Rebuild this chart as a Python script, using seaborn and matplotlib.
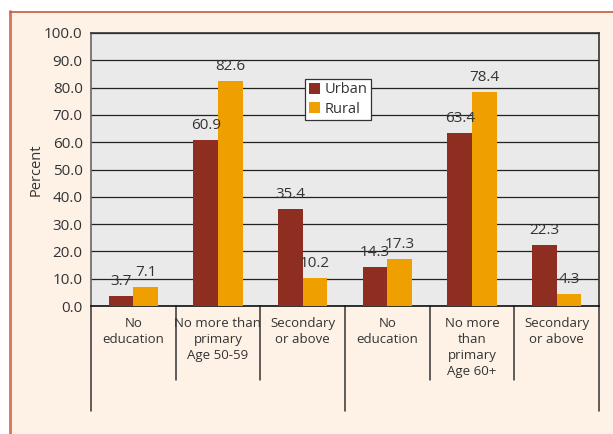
import pandas as pd
import matplotlib.pyplot as plt
import seaborn as sns
from matplotlib.patches import Rectangle
from matplotlib.lines import Line2D

groups = ['ne_50', 'prim_50', 'sec_50', 'ne_60', 'prim_60', 'sec_60']
group_labels = ['No\neducation', 'No more than\nprimary\nAge 50-59', 'Secondary\nor above',
                'No\neducation', 'No more\nthan\nprimary\nAge 60+', 'Secondary\nor above']
urban = [3.7, 60.9, 35.4, 14.3, 63.4, 22.3]
rural = [7.1, 82.6, 10.2, 17.3, 78.4, 4.3]
series = ['Urban', 'Rural']
colors = ['#8E2E20', '#EFA000']

df = pd.DataFrame({
    'group': groups * 2,
    'area': ['Urban'] * 6 + ['Rural'] * 6,
    'value': urban + rural,
})

sns.set_style('white')
plt.rcParams['font.family'] = ['Open Sans', 'DejaVu Sans']
plt.rcParams['text.color'] = '#333333'

fig = plt.figure(figsize=(6.13, 4.34), dpi=100)
fig.patch.set_facecolor('white')
# cream panel with salmon border
fig.patches.append(Rectangle((10 / 613, 0), 1, (434 - 11) / 434, transform=fig.transFigure,
                             facecolor='#FEF2E7', edgecolor='none', zorder=-10))
fig.lines.append(Line2D([10 / 613, 10 / 613], [0, (434 - 11) / 434], transform=fig.transFigure,
                        color='#D5735C', lw=2, zorder=-5))
fig.lines.append(Line2D([10 / 613, 1], [(434 - 11.5) / 434] * 2, transform=fig.transFigure,
                        color='#C65A44', lw=1.2, zorder=-5))

ax = fig.add_axes([91 / 613, (434 - 306) / 434, 508 / 613, 273 / 434])
ax.set_zorder(1)
ax.set_facecolor('#EAEAEA')

sns.barplot(data=df, x='group', y='value', hue='area', order=groups, hue_order=series,
            palette=colors, width=0.58, gap=0, saturation=1, linewidth=0, ax=ax, zorder=3)

ax.set_ylim(0, 100)
ax.set_xlim(-0.5, 5.5)
ax.set_yticks(range(0, 101, 10))
ax.set_yticklabels([f'{v:.1f}' for v in range(0, 101, 10)], fontsize=11)
ax.yaxis.grid(True, color='#222222', lw=0.9, zorder=1)
ax.set_axisbelow(True)
ax.tick_params(axis='y', length=4, width=1, color='#555555', pad=2, labelcolor='#333333')
ax.set_xticks(range(6))
ax.set_xticklabels(group_labels, fontsize=9.5, va='top', linespacing=1.3, color='#333333')
ax.tick_params(axis='x', length=0, pad=8)
ax.set_xlabel('')
ax.set_ylabel('Percent', fontsize=10.5, labelpad=0, color='#333333')

for side in ['top', 'right']:
    ax.spines[side].set_color('#333333')
    ax.spines[side].set_linewidth(1.2)
ax.spines['left'].set_color('#666666')
ax.spines['left'].set_linewidth(1.2)
ax.spines['bottom'].set_color('#111111')
ax.spines['bottom'].set_linewidth(1.2)

# value labels
for cont in ax.containers:
    ax.bar_label(cont, fmt='%.1f', padding=5, fontsize=11, color='#333333')

# group separators under the axis
trans = ax.get_xaxis_transform()
for x in [-0.5, 2.5, 5.5]:
    ax.plot([x, x], [0, -0.385], transform=trans, color='#333333', lw=1.1, clip_on=False)
for x in [0.5, 1.5, 3.5, 4.5]:
    ax.plot([x, x], [0, -0.27], transform=trans, color='#333333', lw=1.1, clip_on=False)

leg = ax.legend(loc='upper left', bbox_to_anchor=(0.421, 0.833), fontsize=10.5, frameon=True,
                fancybox=False, handlelength=0.8, handleheight=0.8, handletextpad=0.3,
                borderpad=0.25, labelspacing=0.3, borderaxespad=0, title=None)
leg.get_frame().set_edgecolor('#333333')
leg.get_frame().set_linewidth(0.9)
leg.get_frame().set_facecolor('white')
leg.get_frame().set_alpha(1)

fig.savefig('out.png', dpi=100)
